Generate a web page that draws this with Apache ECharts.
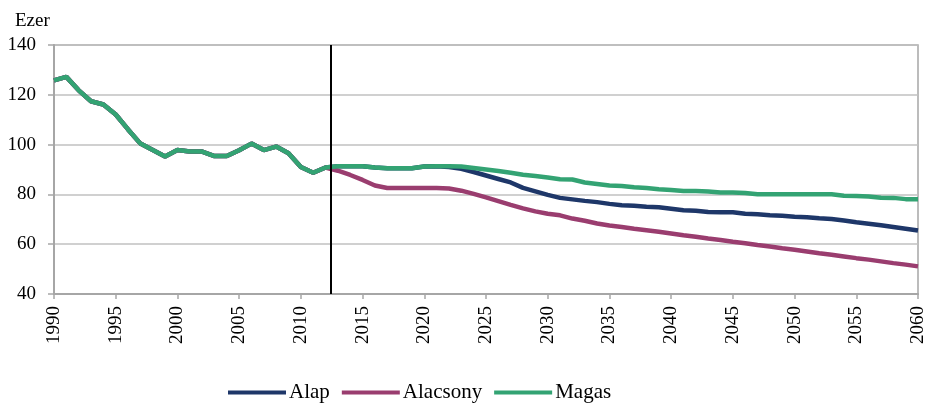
<!DOCTYPE html>
<html>
<head>
<meta charset="utf-8">
<script src="https://cdn.jsdelivr.net/npm/echarts@6/dist/echarts.min.js"></script>
<style>html,body{margin:0;padding:0;background:#fff}#c{width:928px;height:405px}</style>
</head>
<body>
<div id="c"></div>
<script>
const startYear = 1990;
const endYear = 2060;
const markerYear = 2012.42;
const seriesNames = ['Alap', 'Alacsony', 'Magas'];
const history = [125.8, 127.2, 121.8, 117.4, 116.1, 112.1, 106.1, 100.4, 97.8, 95.2, 97.8, 97.2, 97.2, 95.4, 95.4, 97.7, 100.4, 97.8, 99.2, 96.5, 91.0, 88.7, 90.8];
const alap = [91.3, 91.3, 91.3, 90.8, 90.5, 90.5, 90.5, 91.2, 91.3,
  91.0, 90.3, 89.0, 87.6, 86.2, 84.8, 82.6, 81.2, 79.8, 78.6,
  78.0, 77.4, 76.9, 76.2, 75.6, 75.4, 75.0, 74.8, 74.2, 73.6,
  73.4, 72.9, 72.8, 72.8, 72.2, 72.0, 71.6, 71.4, 71.0, 70.8,
  70.4, 70.1, 69.5, 68.8, 68.2, 67.6, 66.9, 66.2, 65.5];
const alacsony = [89.5, 87.8, 85.8, 83.6, 82.6, 82.6, 82.6, 82.6, 82.6,
  82.4, 81.5, 80.2, 78.8, 77.3, 75.8, 74.4, 73.2, 72.2, 71.6,
  70.3, 69.4, 68.3, 67.5, 66.9, 66.2, 65.6, 65.0, 64.3, 63.6,
  63.0, 62.3, 61.7, 61.0, 60.4, 59.7, 59.1, 58.4, 57.8, 57.1,
  56.4, 55.8, 55.1, 54.4, 53.8, 53.1, 52.4, 51.8, 51.1];
const magas = [91.3, 91.3, 91.3, 90.8, 90.5, 90.5, 90.5, 91.2, 91.3,
  91.3, 91.2, 90.6, 90.0, 89.4, 88.7, 87.9, 87.4, 86.8, 86.1,
  86.0, 84.8, 84.2, 83.6, 83.4, 82.9, 82.6, 82.1, 81.8, 81.4,
  81.4, 81.2, 80.8, 80.8, 80.6, 80.1, 80.1, 80.1, 80.1, 80.1,
  80.1, 80.1, 79.5, 79.4, 79.2, 78.7, 78.6, 78.1, 78.1];
const colors = ['#1e3769', '#9a3d6f', '#33a373'];

function build(proj) {
  const vals = history.concat(proj);
  return vals.map((v, i) => [startYear + i, v]);
}
const projections = [alap, alacsony, magas];
const font = 'Liberation Serif';

const chart = echarts.init(document.getElementById('c'), null, {renderer: 'canvas'});
chart.setOption({
  animation: false,
  textStyle: {fontFamily: font},
  title: {text: 'Ezer', left: 10, top: 7, textStyle: {fontFamily: font, fontSize: 19, fontWeight: 'normal', color: '#000'}},
  grid: {left: 54, right: 10, top: 45, bottom: 111, show: true, borderColor: '#a6a6a6', borderWidth: 1.5},
  legend: {
    data: seriesNames, left: 223, top: 377, icon: 'rect', itemWidth: 58, itemHeight: 4, itemGap: 12,
    textStyle: {fontFamily: font, fontSize: 21, color: '#000', padding: [0, 0, 0, -2]}
  },
  xAxis: {
    type: 'value', min: startYear, max: endYear, interval: 5,
    axisLine: {lineStyle: {color: '#a6a6a6', width: 2}},
    axisTick: {show: true, length: 5, lineStyle: {color: '#a6a6a6', width: 1.5}},
    splitLine: {show: false},
    axisLabel: {rotate: 90, margin: 12, fontFamily: font, fontSize: 19, color: '#000', formatter: v => String(v)}
  },
  yAxis: {
    type: 'value', min: 40, max: 140, interval: 20,
    axisLine: {show: true, lineStyle: {color: '#a6a6a6', width: 2}},
    axisTick: {show: true, length: 6, lineStyle: {color: '#a6a6a6', width: 1.5}},
    splitLine: {lineStyle: {color: '#c0c0c0', width: 1.5}},
    axisLabel: {margin: 18, fontFamily: font, fontSize: 19, color: '#000'}
  },
  series: seriesNames.map((n, k) => ({
    name: n, type: 'line', data: build(projections[k]), showSymbol: false, symbol: 'none',
    lineStyle: {color: colors[k], width: 4.5}, itemStyle: {color: colors[k]}, z: 2 + k,
    markLine: k === 2 ? {
      silent: true, symbol: 'none', label: {show: false},
      lineStyle: {color: '#000', width: 2, type: 'solid'},
      data: [{xAxis: markerYear}], z: 10
    } : undefined
  }))
});
</script>
</body>
</html>
